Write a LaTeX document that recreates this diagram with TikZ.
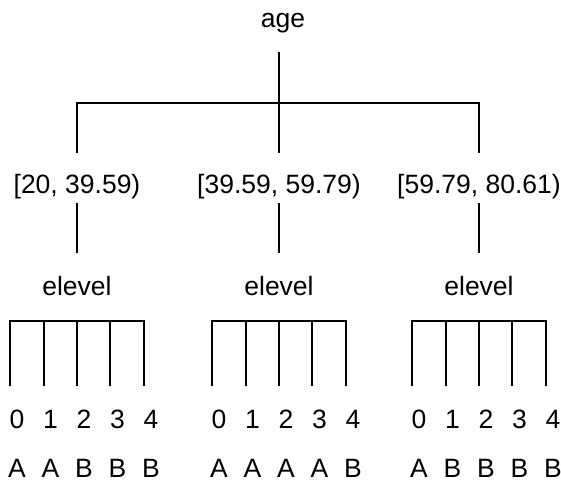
\documentclass[tikz,border=0pt]{standalone}
\usepackage{fontspec}
\setmainfont{Liberation Sans}
\begin{document}
\begin{tikzpicture}[x=1bp,y=1bp,
  lbl/.style={font=\fontsize{26.6}{30}\selectfont, inner sep=0pt, anchor=base},
  ln/.style={line width=2bp}]
\useasboundingbox (0,0) rectangle (561,481);
% root
\node[lbl] (age) at (283,453.5) {age};
\coordinate (agebot) at (279,429);
\coordinate (split) at (279,328);
\draw[ln] (agebot) -- (split);
\draw[ln] (77,328) -- (77,378) -- (479,378) -- (479,328);
% groups
\foreach \i/\cx/\iv/\lets in {1/77/{[20, 39.59)}/{A,A,B,B,B},
                              2/279/{[39.59, 59.79)}/{A,A,A,A,B},
                              3/479/{[59.79, 80.61)}/{A,B,B,B,B}}{
  \node[lbl] (iv\i) at (\cx,287.5) {\iv};
  \coordinate (ivb\i) at (\cx,278);
  \coordinate (elt\i) at (\cx,228);
  \draw[ln] (ivb\i) -- (elt\i);
  \node[lbl] (el\i) at (\cx,185) {elevel};
  \draw[ln] (\cx-67,95) -- (\cx-67,160) -- (\cx+67,160) -- (\cx+67,95);
  \foreach \l/\off [count=\k from 0] in {A/-67,B/-33,C/0,D/33,E/67} {
    \pgfmathsetmacro{\xx}{\cx+\off}
    \ifnum\k>0 \ifnum\k<4 \draw[ln] (\xx,160) -- (\xx,95); \fi\fi
  }
  \foreach \l [count=\k from 0] in \lets {
    \pgfmathsetmacro{\xx}{\cx+(\k-2)*33.5}
    \node[lbl] (n\i\k) at (\xx+7,52.7) {\k};
    \node[lbl] (c\i\k) at (\xx+7,3.7) {\l};
  }
}
\end{tikzpicture}
\end{document}
